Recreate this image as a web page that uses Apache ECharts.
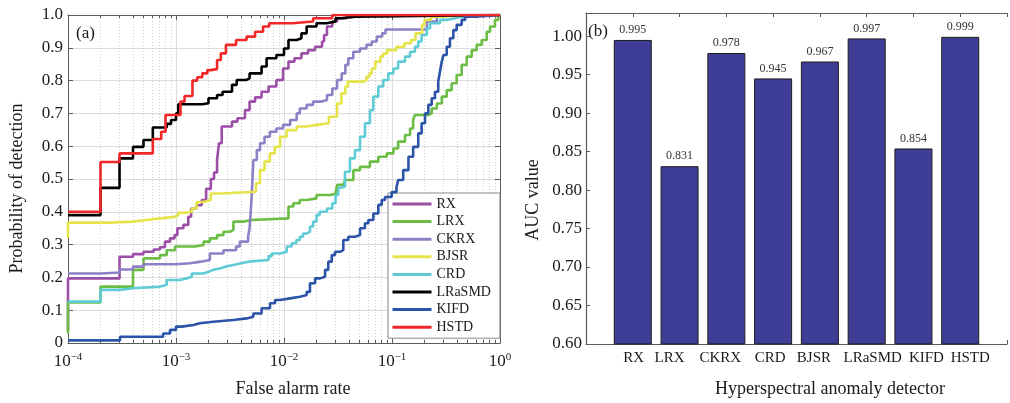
<!DOCTYPE html>
<html><head><meta charset="utf-8">
<script src="https://cdn.jsdelivr.net/npm/echarts@6/dist/echarts.min.js"></script>
<style>html,body{margin:0;padding:0;background:#fff}#c{width:1010px;height:403px}</style>
</head><body><div id="c"></div>
<script>
// ---------- Data: ROC curves (false alarm rate, probability of detection) ----------
const rxData = [[1e-4,0.04],[1e-4,0.197],[3e-4,0.263],[4e-4,0.271],[5e-4,0.278],[6.2e-4,0.285],[7.1e-4,0.292],[7.9e-4,0.309],[8.8e-4,0.319],[9.7e-4,0.329],[1.03e-3,0.35],[1.17e-3,0.36],[1.3e-3,0.385],[1.38e-3,0.41],[1.55e-3,0.42],[1.73e-3,0.436],[1.9e-3,0.47],[2.1e-3,0.50],[2.25e-3,0.52],[2.4e-3,0.558],[2.5e-3,0.609],[2.65e-3,0.66],[3.3e-3,0.675],[3.7e-3,0.685],[4.35e-3,0.71],[4.8e-3,0.736],[5.4e-3,0.749],[6.2e-3,0.766],[7.2e-3,0.782],[8.5e-3,0.802],[9.8e-3,0.837],[0.011,0.858],[0.0125,0.868],[0.0145,0.883],[0.0167,0.893],[0.0194,0.903],[0.0225,0.919],[0.0235,0.939],[0.025,0.965],[0.028,0.98],[0.031,0.99],[0.038,1.0],[1,1.0]];
const lrxData = [[1e-4,0.03],[1e-4,0.124],[2e-4,0.172],[4e-4,0.223],[5e-4,0.258],[7.1e-4,0.268],[8.2e-4,0.283],[9.8e-4,0.294],[1.5e-3,0.299],[1.8e-3,0.309],[2.06e-3,0.319],[2.4e-3,0.329],[2.75e-3,0.339],[3.15e-3,0.345],[3.4e-3,0.37],[4.2e-3,0.375],[5e-3,0.38],[0.011,0.416],[0.0122,0.426],[0.014,0.436],[0.0162,0.441],[0.02,0.451],[0.027,0.455],[0.03,0.461],[0.031,0.482],[0.0354,0.487],[0.0367,0.497],[0.0439,0.527],[0.0506,0.537],[0.0625,0.553],[0.0747,0.568],[0.0893,0.578],[0.103,0.593],[0.114,0.614],[0.132,0.634],[0.147,0.654],[0.157,0.68],[0.163,0.695],[0.202,0.695],[0.217,0.70],[0.233,0.715],[0.26,0.73],[0.289,0.751],[0.321,0.771],[0.357,0.792],[0.397,0.817],[0.442,0.848],[0.492,0.873],[0.547,0.893],[0.608,0.909],[0.677,0.924],[0.753,0.949],[0.808,0.965],[0.899,0.985],[0.964,1.0],[1,1.0]];
const ckrxData = [[1e-4,0.212],[2e-4,0.215],[3e-4,0.224],[4e-4,0.233],[5e-4,0.24],[1e-3,0.243],[1.35e-3,0.248],[1.7e-3,0.253],[2.06e-3,0.273],[2.75e-3,0.283],[3.6e-3,0.294],[3.9e-3,0.309],[4.65e-3,0.324],[4.8e-3,0.35],[5e-3,0.436],[5.2e-3,0.558],[5.6e-3,0.588],[6e-3,0.609],[6.6e-3,0.629],[7.4e-3,0.644],[8.5e-3,0.654],[9.8e-3,0.665],[0.0114,0.68],[0.0131,0.70],[0.014,0.715],[0.0162,0.726],[0.0186,0.736],[0.0223,0.741],[0.025,0.756],[0.028,0.776],[0.031,0.802],[0.0342,0.822],[0.037,0.848],[0.0394,0.868],[0.0438,0.888],[0.0505,0.898],[0.058,0.909],[0.065,0.919],[0.0723,0.934],[0.081,0.944],[0.087,0.956],[0.189,0.956],[0.21,0.98],[0.26,1.0],[1,1.0]];
const bjsrData = [[1e-4,0.32],[1e-4,0.367],[2.45e-4,0.37],[4e-4,0.375],[5.3e-4,0.38],[7.1e-4,0.385],[9.8e-4,0.39],[1.05e-3,0.397],[1.25e-3,0.40],[1.4e-3,0.41],[1.55e-3,0.43],[1.8e-3,0.436],[2.1e-3,0.456],[2.6e-3,0.461],[5.5e-3,0.487],[6e-3,0.527],[6.6e-3,0.553],[7.4e-3,0.578],[8.2e-3,0.598],[9.2e-3,0.629],[0.0106,0.649],[0.0131,0.66],[0.0162,0.665],[0.02,0.67],[0.026,0.69],[0.031,0.73],[0.034,0.761],[0.037,0.782],[0.039,0.797],[0.055,0.802],[0.058,0.812],[0.062,0.822],[0.065,0.837],[0.07,0.858],[0.078,0.873],[0.083,0.883],[0.09,0.893],[0.11,0.903],[0.13,0.914],[0.15,0.924],[0.165,0.944],[0.19,0.97],[0.2,0.985],[0.23,0.995],[0.26,1.0],[1,1.0]];
const crdData = [[1e-4,0.126],[2e-4,0.162],[3e-4,0.167],[4e-4,0.172],[7.1e-4,0.177],[8.2e-4,0.192],[1.09e-3,0.197],[1.25e-3,0.202],[1.4e-3,0.212],[1.8e-3,0.217],[2.0e-3,0.223],[2.2e-3,0.228],[2.6e-3,0.233],[2.9e-3,0.238],[3.4e-3,0.243],[4.0e-3,0.248],[4.7e-3,0.253],[7.2e-3,0.265],[7.7e-3,0.273],[9.2e-3,0.278],[0.0106,0.294],[0.0118,0.304],[0.013,0.314],[0.014,0.324],[0.015,0.334],[0.0162,0.339],[0.0174,0.355],[0.0186,0.37],[0.02,0.39],[0.0214,0.40],[0.025,0.41],[0.028,0.426],[0.03,0.451],[0.0318,0.472],[0.033,0.477],[0.0367,0.522],[0.0408,0.563],[0.0454,0.588],[0.0506,0.629],[0.0562,0.67],[0.0625,0.71],[0.0672,0.751],[0.0747,0.782],[0.083,0.802],[0.0925,0.822],[0.103,0.837],[0.114,0.858],[0.132,0.873],[0.147,0.888],[0.163,0.903],[0.175,0.919],[0.188,0.939],[0.21,0.959],[0.225,0.975],[0.278,0.985],[0.321,0.99],[0.383,0.995],[0.442,1.0],[1,1.0]];
const lrasmdData = [[1e-4,0.39],[2e-4,0.473],[3e-4,0.563],[4e-4,0.598],[5e-4,0.619],[6.1e-4,0.657],[8.2e-4,0.668],[9e-4,0.68],[1e-3,0.70],[1.05e-3,0.728],[1.75e-3,0.731],[2e-3,0.746],[2.4e-3,0.756],[2.7e-3,0.766],[3.3e-3,0.787],[3.65e-3,0.802],[4.5e-3,0.807],[4.8e-3,0.822],[6.2e-3,0.843],[6.9e-3,0.868],[8.5e-3,0.878],[0.01,0.898],[0.011,0.924],[0.0131,0.929],[0.0145,0.944],[0.0162,0.965],[0.02,0.975],[0.0248,0.98],[0.03,0.99],[0.034,0.995],[0.046,1.0],[1,1.0]];
const kifdData = [[1e-4,0.008],[3.03e-4,0.019],[7.6e-4,0.029],[8.8e-4,0.04],[1.0e-3,0.05],[1.13e-3,0.055],[1.45e-3,0.06],[1.66e-3,0.065],[2.21e-3,0.07],[3.39e-3,0.075],[4.51e-3,0.08],[5.2e-3,0.09],[6.2e-3,0.106],[7.42e-3,0.121],[8.26e-3,0.131],[9.18e-3,0.136],[0.01137,0.141],[0.01406,0.146],[0.0162,0.156],[0.0174,0.182],[0.0194,0.197],[0.0216,0.202],[0.024,0.223],[0.0257,0.248],[0.0277,0.268],[0.0297,0.278],[0.033,0.283],[0.0354,0.314],[0.0394,0.324],[0.0454,0.329],[0.0506,0.35],[0.0562,0.365],[0.0604,0.375],[0.0672,0.395],[0.0747,0.421],[0.0803,0.436],[0.0861,0.445],[0.0993,0.46],[0.11,0.475],[0.114,0.497],[0.127,0.527],[0.142,0.568],[0.157,0.598],[0.175,0.639],[0.188,0.67],[0.202,0.70],[0.217,0.726],[0.233,0.746],[0.25,0.766],[0.268,0.797],[0.278,0.827],[0.289,0.858],[0.299,0.878],[0.321,0.903],[0.344,0.929],[0.37,0.954],[0.397,0.97],[0.442,0.985],[0.475,0.995],[0.587,1.0],[1,1.0]];
const hstdData = [[1e-4,0.40],[2e-4,0.552],[3e-4,0.578],[6.1e-4,0.622],[7.3e-4,0.644],[8e-4,0.695],[1.1e-3,0.736],[1.2e-3,0.753],[1.42e-3,0.80],[1.57e-3,0.81],[1.75e-3,0.822],[1.95e-3,0.832],[2.1e-3,0.835],[2.4e-3,0.863],[2.6e-3,0.883],[2.9e-3,0.909],[3.6e-3,0.924],[4.5e-3,0.934],[5.4e-3,0.949],[6.4e-3,0.965],[7.3e-3,0.975],[0.012,0.98],[0.0186,0.99],[0.028,1.0],[1,1.0]];

const rocNames  = ['RX','LRX','CKRX','BJSR','CRD','LRaSMD','KIFD','HSTD'];
const rocColors = ['#9c4ea6','#6cbd45','#8e80c6','#e5e54b','#5fcbd7','#000000','#2b53a7','#f02828'];
const rocSets   = [rxData, lrxData, ckrxData, bjsrData, crdData, lrasmdData, kifdData, hstdData];

// ---------- Data: AUC bars ----------
const barCategories = ['RX','LRX','CKRX','CRD','BJSR','LRaSMD','KIFD','HSTD'];
const aucValues     = [0.995, 0.831, 0.978, 0.945, 0.967, 0.997, 0.854, 0.999];

// ---------- Tick values ----------
const minorLogTicks = [2e-4,3e-4,4e-4,5e-4,6e-4,7e-4,8e-4,9e-4,
                       2e-3,3e-3,4e-3,5e-3,6e-3,7e-3,8e-3,9e-3,
                       0.02,0.03,0.04,0.05,0.06,0.07,0.08,0.09,
                       0.2,0.3,0.4,0.5,0.6,0.7,0.8,0.9];

const FONT = '"Liberation Serif", "Times New Roman", serif';
const AX = '#5a5a5a';
const TX = '#1a1a1a';

// horizontal nudge (px) of each category label, as typeset in the original figure
const catLabelNudge = [1, -10, -6, -3, -6, 6, 13, 10];

const chart = echarts.init(document.getElementById('c'), null, {renderer: 'canvas'});

function expLabel(v) {
  const e = Math.round(Math.log10(v));
  return '{b|10}{s|' + (e < 0 ? '\u2212' + (-e) : String(e)) + '}';
}

const catRich = {};
catLabelNudge.forEach((n, i) => {
  catRich['c' + i] = {fontFamily: FONT, fontSize: 15, color: TX,
    padding: n >= 0 ? [0, 0, 0, 2 * n] : [0, -2 * n, 0, 0]};
});

const logBase = {
  gridIndex: 0, type: 'log', logBase: 10, min: 1e-4, max: 1
};

const series = rocSets.map((d, i) => ({
  name: rocNames[i], type: 'line', xAxisIndex: 0, yAxisIndex: 0,
  data: d, step: 'end', showSymbol: false, symbol: 'none',
  lineStyle: {color: rocColors[i], width: 2.6}, itemStyle: {color: rocColors[i]},
  animation: false, z: 3 + i
}));

series.push({
  type: 'bar', xAxisIndex: 4, yAxisIndex: 2,
  data: barCategories.map((c, i) => [i + 1, aucValues[i]]),
  barWidth: 38,
  itemStyle: {color: '#3f3e96', borderColor: '#1c1c1c', borderWidth: 1},
  label: {show: true, position: 'top', distance: 4, fontFamily: FONT, fontSize: 12, color: '#333',
          formatter: p => p.value[1].toFixed(3)},
  animation: false
});

const option = {
  backgroundColor: '#fff',
  animation: false,
  textStyle: {fontFamily: FONT},
  grid: [
    {left: 68, top: 15, width: 432, height: 328},
    {left: 586, top: 13, width: 431, height: 334}
  ],
  legend: {
    data: rocNames, orient: 'vertical', left: 388, top: 193,
    icon: 'rect', itemWidth: 39, itemHeight: 3, itemGap: 3.6,
    padding: [4, 9, 4, 4.5], borderColor: '#8a8a8a', borderWidth: 1,
    backgroundColor: '#fff', borderRadius: 0,
    textStyle: {fontFamily: FONT, fontSize: 14, color: TX, lineHeight: 14}
  },
  xAxis: [
    Object.assign({}, logBase, {
      position: 'bottom',
      axisLine: {show: true, onZero: false, lineStyle: {color: AX}},
      axisTick: {show: true, inside: true, length: 5, lineStyle: {color: AX}},
      axisLabel: {margin: 9, formatter: expLabel,
        rich: {b: {fontFamily: FONT, fontSize: 17, color: TX, lineHeight: 20},
               s: {fontFamily: FONT, fontSize: 11, color: TX, lineHeight: 12, verticalAlign: 'top'}}},
      splitLine: {show: true, lineStyle: {color: '#dcdcdc', width: 1}},
      name: 'False alarm rate', nameLocation: 'middle', nameGap: 37,
      nameTextStyle: {fontFamily: FONT, fontSize: 18, color: TX, padding: [0, 0, 0, 18]}
    }),
    Object.assign({}, logBase, {
      position: 'top',
      axisLine: {show: true, onZero: false, lineStyle: {color: AX}},
      axisTick: {show: true, inside: true, length: 5, lineStyle: {color: AX}},
      axisLabel: {show: false}, splitLine: {show: false}
    }),
    Object.assign({}, logBase, {
      position: 'bottom',
      axisLine: {show: false, onZero: false},
      axisTick: {show: true, inside: true, length: 3, customValues: minorLogTicks, lineStyle: {color: AX}},
      axisLabel: {show: false},
      splitLine: {show: true, lineStyle: {color: '#cfcfcf', width: 1, type: [1, 2]}}
    }),
    Object.assign({}, logBase, {
      position: 'top',
      axisLine: {show: false, onZero: false},
      axisTick: {show: true, inside: true, length: 3, customValues: minorLogTicks, lineStyle: {color: AX}},
      axisLabel: {show: false}, splitLine: {show: false}
    }),
    {
      gridIndex: 1, type: 'value', min: 0, max: 9, interval: 1, position: 'bottom',
      axisLine: {show: true, onZero: false, lineStyle: {color: AX, width: 1.2}},
      axisTick: {show: true, inside: true, length: 4, lineStyle: {color: AX}},
      axisLabel: {margin: 7, fontFamily: FONT, fontSize: 15, color: TX, hideOverlap: false,
                  rich: catRich,
                  formatter: v => (barCategories[v - 1] ? '{c' + (v - 1) + '|' + barCategories[v - 1] + '}' : '')},
      splitLine: {show: false},
      name: 'Hyperspectral anomaly detector', nameLocation: 'middle', nameGap: 36,
      nameTextStyle: {fontFamily: FONT, fontSize: 18, color: TX, padding: [0, 0, 0, 67]}
    },
    {
      gridIndex: 1, type: 'value', min: 0, max: 9, interval: 1, position: 'top',
      axisLine: {show: true, onZero: false, lineStyle: {color: AX, width: 1.2}},
      axisTick: {show: true, inside: true, length: 4, lineStyle: {color: AX}},
      axisLabel: {show: false}, splitLine: {show: false}
    }
  ],
  yAxis: [
    {
      gridIndex: 0, type: 'value', min: 0, max: 1, interval: 0.1, position: 'left',
      axisLine: {show: true, onZero: false, lineStyle: {color: AX}},
      axisTick: {show: true, inside: true, length: 5, lineStyle: {color: AX}},
      axisLabel: {margin: 5, fontFamily: FONT, fontSize: 17, color: TX,
                  formatter: v => (v === 0 ? '0' : v.toFixed(1))},
      splitLine: {show: true, lineStyle: {color: '#dcdcdc', width: 1}},
      name: 'Probability of detection', nameLocation: 'middle', nameGap: 42, nameRotate: 90,
      nameTextStyle: {fontFamily: FONT, fontSize: 18, color: TX, padding: [0, 19, 0, 0]}
    },
    {
      gridIndex: 0, type: 'value', min: 0, max: 1, interval: 0.1, position: 'right',
      axisLine: {show: true, onZero: false, lineStyle: {color: AX}},
      axisTick: {show: true, inside: true, length: 5, lineStyle: {color: AX}},
      axisLabel: {show: false}, splitLine: {show: false}
    },
    {
      gridIndex: 1, type: 'value', min: 0.6, max: 1.03, interval: 0.05, position: 'left',
      axisLine: {show: true, onZero: false, lineStyle: {color: AX, width: 1.2}},
      axisTick: {show: true, inside: true, length: 4, lineStyle: {color: AX}},
      axisLabel: {margin: 4, fontFamily: FONT, fontSize: 17, color: TX,
                  formatter: v => (Math.abs(v * 20 - Math.round(v * 20)) < 1e-6 ? v.toFixed(2) : '')},
      splitLine: {show: false},
      name: 'AUC value', nameLocation: 'middle', nameGap: 44, nameRotate: 90,
      nameTextStyle: {fontFamily: FONT, fontSize: 18, color: TX, padding: [0, 43, 0, 0]}
    }
  ],
  graphic: [
    {type: 'text', left: 76, top: 25, z: 10,
     style: {text: '(a)', fontFamily: FONT, fontSize: 17, fill: TX}},
    {type: 'text', left: 588, top: 23, z: 10,
     style: {text: '(b)', fontFamily: FONT, fontSize: 17, fill: TX}}
  ],
  series: series
};

chart.setOption(option);
</script></body></html>
